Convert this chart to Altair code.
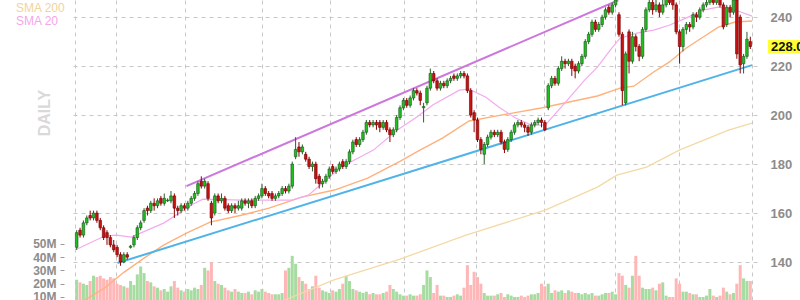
import altair as alt
import pandas as pd

# ---------------- data ----------------
open_ = [146,153,151,156,159,158,160,157,154,152,
         150,147,146,143,140,143,146,147,150,154,
         157,162,161,164,163,166,164,165,165,167,
         162,161,163,162,164,166,168,173,171,172,
         164,160,167,165,166,163,161,163,162,162,
         165,164,165,163,166,167,170,168,168,166,
         167,168,170,169,171,183,187,185,184,182,
         179,180,175,172,173,175,179,177,178,181,
         179,181,185,190,188,190,193,197,196,197,
         197,195,197,194,192,194,199,203,206,204,
         207,210,209,203,205,211,217,214,211,213,
         212,214,216,215,216,217,216,210,201,198,
         190,184,188,191,193,192,193,189,186,190,
         193,196,197,196,195,193,196,197,198,197,
         203,212,215,213,219,222,221,222,220,218,
         221,224,230,233,238,235,237,240,244,242,
         245,241,233,205,234,222,232,228,224,235,
         243,246,243,245,242,245,248,247,245,234,
         228,235,237,236,241,240,243,245,246,248,
         246,248,245,237,244,242,247,240,221,224,
         230]
close = [152,151,156,158,158,160,157,154,150,150,
         147,145,143,140,143,142,146.5,150,154,156,
         161,161,164,163,165,164,166,165.3,167,162,
         161,163,162,164,166,168,172,171,173,166,
         158,167,165,166,162,161,163,162,163,165,
         164,165,163,166,167,170,168,167,166,167,
         168,170,169,171,180,186,185,187,182,179,
         180,174,172,173,175,178,177,178,180,179,
         181,185,189,188,190,193,197,196,197,196,
         195,197,194,192,194,199,203,206,204,207,
         210,209,206,203.5,211,217,214,211,213,212,
         214,215,215,216,217,216,210,200,198,190,
         186,188,191,193,192,193,189,186,190,193,
         196,197,196,195,193,196,197,198,197,194,
         212,215,213,219,222,221,222,219,218,221,
         224,230,233,238,235,237,240,243,242,245,
         247,233,210,225,222,232,228,224,235,243,
         246,243,245,242,245,248,246,245,234,228,
         235,237,236,241,240,243,245,246,248,246,
         248,245,236,244,242,247,225,220.5,224,231,
         228]
high = [153,154,157,159,161,161,161,158,155,153,
        151,149,147,144,144,144,147,151,155,157,
        162,163,165,166,166,167,168,166,169,168,
        163,164,164,165,167,169,173,175,174,173,
        165,168,168,168,167,164,164,164,165,166,
        166,166,166,167,168,172,171,169,169,168,
        169,171,171,172,181,191,189,188,185,183,
        181,181,176,174,176,179,180,179,181,182,
        182,186,190,191,191,194,198,198,198,198,
        198,198,198,195,195,200,204,207,207,208,
        211,211,210,205,212,219,218,215,214,214,
        215,216,217,217,218,218,217,211,202,199,
        191,189,192,194,194,194,194,190,191,194,
        197,198,198,197,196,197,198,199,199,198,
        213,216,216,220,224,223,223,223,221,222,
        225,231,234,239,239,238,241,244,245,246,
        249,242,234,226,235,234,233,229,236,244,
        248,247,247,246,247,250,249,248,246,235,
        236,238,238,242,242,244,246,248,249,249,
        250,249,246,245,245,249,248,241,225,234,
        232]
low = [145,150,150,155,157,157,156,153,149,147,
       146,144,142,138.5,139.5,141,145.5,146,149,153,
       156,159,160,161,162,163,163,164.5,164,158,
       159,160,161,161,163,165,167,170,170,165,
       155,159,164,164,161,160,160,160,161,161,
       163,162,162,162,165,166,167,166,165,165,
       166,167,168,168,170,182,183,184,181,178,
       177,172,170,170.5,172,174,176,176,177,178,
       178,180,184,187,187,189,192,195,195,194,
       193,194,193,189,191,193,198,202,203,203,
       206,208,204,197,204,210,213,210,210,211,
       211,213,214,214,215,215,209,199,193,189,
       184,180,187,190,191,191,188,184.5,185,189,
       192,195,195,193,191.5,192,195,196,195,193.5,
       202,211,212,212,218,219,220,216,215,217,
       220,223,229,232,234,234,236,239,241,241,
       244,232,204,204,217,221,226,222,223,234,
       242,241,242,240,241,244,245,243,233,221,
       226,233,234,235,238,239,242,244,245,245,
       245,244,235,236,240,241,223,217,217,223,
       227]
volume_m = [23,21,20,19,22,26,25,26,24,23,
            25,24,20,19,18,17,22,19,27,33,
            28,22,21,18,17,15,16,14,18,22,
            17,15,14,16,15,17,16,19,32,30,
            36,22,20,19,17,15,14,16,14,13,
            13,14,12,15,14,16,14,13,12,12,
            12,13,30,32,41,35,25,22,20,16,
            18,26,17,15,14,13,15,14,16,20,
            26,22,16,15,14,13,14,12,13,12,
            12,13,14,19,16,14,12,11,11,12,
            11,11,12,19,30,25,13,19,11,11,
            10,10,11,12,11,17,34,19,29,25,
            20,13,11,11,11,12,13,10,12,11,
            10,10,11,10,11,12,12,13,20,18,
            20,13,15,14,15,13,15,14,13,13,
            12,13,12,13,11,11,12,13,13,14,
            12,28,26,19,17,26,41,26,17,16,
            16,17,15,20,21,11,10,10,24,20,
            14,14,13,12,12,10,10,11,16,11,
            10,11,17,14,12,13,20,34,24,22,
            22]

sma20_idx = [-0.5, 8.3, 11.8, 16.2, 25.8, 34.6, 37.5, 49.2, 63.9, 68.8, 78.5, 88.1,
             95.2, 101.0, 105.7, 113.6, 116.5, 121.5, 125.3, 130.3, 135.0, 139.1,
             144.9, 150.8, 154.6, 158.4, 161.3, 166.3, 171.3, 175.9, 180.9, 185.9,
             190.5, 195.5, 200.5]
sma20_val = [144.9, 150.6, 151.0, 150.2, 155.9, 163.7, 165.7, 165.3, 165.3, 167.3, 178.8, 185.7,
             193.9, 199.2, 204.1, 210.2, 210.6, 207.3, 203.3, 198.8, 195.9, 195.9,
             204.9, 214.3, 219.6, 226.5, 231.4, 233.5, 234.7, 236.7, 239.6, 242.9,
             244.1, 242.9, 240.4]
sma50_idx = [2.4, 8.3, 14.1, 20.0, 25.8, 32.6, 39.6, 49.2, 57.1, 66.8, 76.5, 86.4,
             96.1, 101.9, 108.6, 116.5, 124.4, 137.9, 154.6, 161.3, 165.4, 171.3,
             175.9, 180.9, 185.9, 190.5, 195.5, 200.5]
sma50_val = [124.5, 129.4, 135.9, 141.6, 146.9, 151.8, 156.3, 159.2, 162.0, 166.5, 169.4, 174.3,
             181.2, 185.7, 190.6, 197.6, 199.6, 202.9, 207.8, 211.0, 211.8, 217.6,
             221.6, 227.3, 231.8, 235.9, 238.0, 238.4]
sma200_idx = [52.2, 61.8, 76.4, 96.0, 115.6, 139.1, 154.6, 160.4, 169.2, 178.9, 193.5, 200.5]
sma200_val = [121.6, 124.5, 132.7, 141.2, 151.0, 161.2, 170.6, 175.5, 178.8, 185.7, 193.9, 196.7]

upper_idx = [32.6, 160.8]
upper_val = [171.0, 246.9]
lower_idx = [12.1, 200.5]
lower_val = [139.6, 220.4]

month_idx = [-0.5, 11.8, 32.3, 55.1, 75.3, 97.2, 118.6, 138.8, 159.8, 178.9, 200.5]
price_ticks = [140, 160, 180, 200, 220, 240]
volume_ticks = [10, 20, 30, 40, 50]
last_price = 228.0

# ---------------- tables ----------------
n = len(close)
bars = pd.DataFrame({
    "idx": list(range(n)),
    "open": open_, "high": high, "low": low, "close": close,
    "volume": volume_m,
})
sma20 = pd.DataFrame({"idx": sma20_idx, "v": sma20_val})
sma50 = pd.DataFrame({"idx": sma50_idx, "v": sma50_val})
sma200 = pd.DataFrame({"idx": sma200_idx, "v": sma200_val})
upper = pd.DataFrame({"idx": upper_idx, "v": upper_val})
lower = pd.DataFrame({"idx": lower_idx, "v": lower_val})
label_df = pd.DataFrame({"p": [last_price], "lo": [last_price - 2.7],
                         "hi": [last_price + 2.7], "t": [f"{last_price:.1f}"]})
one = pd.DataFrame({"a": [0]})

FONT = "Liberation Sans"
GRID = "#c8c8c8"

xenc = alt.X("idx:Q",
             scale=alt.Scale(domain=[-0.5, 200.5], nice=False, zero=False),
             axis=alt.Axis(values=month_idx, labels=False, ticks=False, domain=False,
                           grid=True, gridDash=[4, 4], gridColor=GRID, gridWidth=1,
                           title=None))

pscale = alt.Scale(domain=[124.5, 247], nice=False, zero=False)
paxis = alt.Axis(orient="right", values=price_ticks, grid=True, gridDash=[4, 4],
                 gridColor=GRID, gridWidth=1, ticks=False, domain=False,
                 labelPadding=13, labelFont=FONT, labelFontSize=13,
                 labelFontWeight="bold", labelColor="#8c8c8c", title=None)


def py(field):
    return alt.Y(f"{field}:Q", scale=pscale, axis=paxis)


up = "datum.close >= datum.open"

volume = alt.Chart(bars).mark_bar(width=3.0, clip=True).encode(
    x=xenc,
    y=alt.Y("volume:Q", scale=alt.Scale(domain=[7.7, 234], nice=False, zero=False),
            axis=alt.Axis(orient="left", values=volume_ticks,
                          labelExpr="datum.value + 'M'", grid=False, domain=False,
                          ticks=True, tickSize=4, tickColor="#9a9a9a", offset=6,
                          labelPadding=4, labelFont=FONT, labelFontSize=12,
                          labelFontWeight="bold", labelColor="#8c8c8c", title=None)),
    y2=alt.value(300),
    color=alt.condition(up, alt.value("#a7dca1"), alt.value("#ffb6b6")),
)

l200 = alt.Chart(sma200).mark_line(color="#f4d9a6", strokeWidth=1.3, clip=True).encode(
    x=xenc, y=py("v"))
l50 = alt.Chart(sma50).mark_line(color="#ffb07c", strokeWidth=1.4, clip=True).encode(
    x=xenc, y=py("v"))
l20 = alt.Chart(sma20).mark_line(color="#f3aaee", strokeWidth=1.2, clip=True).encode(
    x=xenc, y=py("v"))
lup = alt.Chart(upper).mark_line(color="#cc77dd", strokeWidth=2, clip=True).encode(
    x=xenc, y=py("v"))
llo = alt.Chart(lower).mark_line(color="#4fb3e8", strokeWidth=2, clip=True).encode(
    x=xenc, y=py("v"))

wicks = alt.Chart(bars).mark_rule(strokeWidth=1, clip=True).encode(
    x=xenc, y=py("low"), y2="high:Q",
    color=alt.condition(up, alt.value("#2d5e2d"), alt.value("#8a0000")),
)
bodies = alt.Chart(bars).mark_bar(width=2.6, strokeWidth=0.6, clip=True).encode(
    x=xenc, y=py("open"), y2="close:Q",
    fill=alt.condition(up, alt.value("#1fbf1f"), alt.value("#c81212")),
    stroke=alt.condition(up, alt.value("#1d4f1d"), alt.value("#6e0000")),
)

box = alt.Chart(label_df).mark_rect(color="#ffff33").encode(
    x=alt.value(698), x2=alt.value(731), y=py("lo"), y2="hi:Q")
box_text = alt.Chart(label_df).mark_text(
    align="left", baseline="middle", font=FONT, fontSize=13, fontWeight="bold",
    color="#111111").encode(x=alt.value(701), y=py("p"), text="t:N")

t200 = alt.Chart(one).mark_text(align="left", baseline="middle", font=FONT, fontSize=12,
                                color="#f0d49c").encode(
    x=alt.value(-54), y=alt.value(8), text=alt.value("SMA 200"))
t20 = alt.Chart(one).mark_text(align="left", baseline="middle", font=FONT, fontSize=12,
                               color="#f4a6ec").encode(
    x=alt.value(-54), y=alt.value(21), text=alt.value("SMA 20"))
daily = alt.Chart(one).mark_text(align="center", baseline="middle", font=FONT, fontSize=16,
                                 fontWeight="bold", angle=270, color="#d9d9d9").encode(
    x=alt.value(-25), y=alt.value(113), text=alt.value("DAILY"))

price = alt.layer(l200, l50, l20, lup, llo, wicks, bodies, box, box_text, t200, t20, daily)

chart = alt.layer(volume, price).resolve_scale(y="independent").properties(
    width=687, height=300,
    autosize=alt.AutoSizeParams(type="none"),
    padding={"left": 70, "right": 43, "top": 0, "bottom": 0},
    background="white",
).configure_view(strokeWidth=0)

chart.save("out.html", embed_options={"renderer": "svg", "actions": False})
